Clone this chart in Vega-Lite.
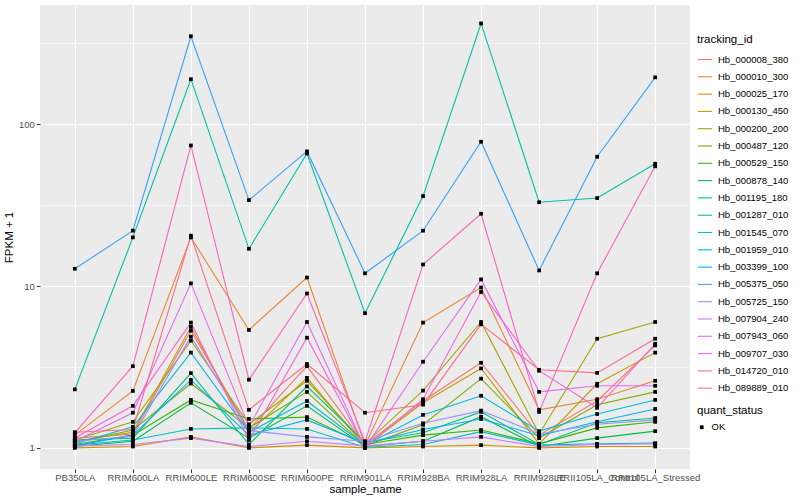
{
"$schema": "https://vega.github.io/schema/vega-lite/v6.json",
"width": 650, "height": 464,
"autosize": {"type": "none"},
"padding": {"left": 40, "top": 5, "right": 110, "bottom": 31},
"background": "white",
"datasets": {"expr": [
{"tracking_id":"Hb_000008_380","sample_name":"PB350LA","fpkm":1.15,"quant_status":"OK"},
{"tracking_id":"Hb_000008_380","sample_name":"RRIM600LA","fpkm":1.22,"quant_status":"OK"},
{"tracking_id":"Hb_000008_380","sample_name":"RRIM600LE","fpkm":5.3,"quant_status":"OK"},
{"tracking_id":"Hb_000008_380","sample_name":"RRIM600SE","fpkm":1.3,"quant_status":"OK"},
{"tracking_id":"Hb_000008_380","sample_name":"RRIM600PE","fpkm":3.2,"quant_status":"OK"},
{"tracking_id":"Hb_000008_380","sample_name":"RRIM901LA","fpkm":1.05,"quant_status":"OK"},
{"tracking_id":"Hb_000008_380","sample_name":"RRIM928BA","fpkm":1.95,"quant_status":"OK"},
{"tracking_id":"Hb_000008_380","sample_name":"RRIM928LA","fpkm":3.36,"quant_status":"OK"},
{"tracking_id":"Hb_000008_380","sample_name":"RRIM928LE","fpkm":1.2,"quant_status":"OK"},
{"tracking_id":"Hb_000008_380","sample_name":"RRII105LA_Control","fpkm":1.95,"quant_status":"OK"},
{"tracking_id":"Hb_000008_380","sample_name":"RRII105LA_Stressed","fpkm":4.3,"quant_status":"OK"},
{"tracking_id":"Hb_000010_300","sample_name":"PB350LA","fpkm":1.2,"quant_status":"OK"},
{"tracking_id":"Hb_000010_300","sample_name":"RRIM600LA","fpkm":2.25,"quant_status":"OK"},
{"tracking_id":"Hb_000010_300","sample_name":"RRIM600LE","fpkm":20,"quant_status":"OK"},
{"tracking_id":"Hb_000010_300","sample_name":"RRIM600SE","fpkm":5.36,"quant_status":"OK"},
{"tracking_id":"Hb_000010_300","sample_name":"RRIM600PE","fpkm":11.3,"quant_status":"OK"},
{"tracking_id":"Hb_000010_300","sample_name":"RRIM901LA","fpkm":1.04,"quant_status":"OK"},
{"tracking_id":"Hb_000010_300","sample_name":"RRIM928BA","fpkm":5.95,"quant_status":"OK"},
{"tracking_id":"Hb_000010_300","sample_name":"RRIM928LA","fpkm":9.8,"quant_status":"OK"},
{"tracking_id":"Hb_000010_300","sample_name":"RRIM928LE","fpkm":1.72,"quant_status":"OK"},
{"tracking_id":"Hb_000010_300","sample_name":"RRII105LA_Control","fpkm":2.0,"quant_status":"OK"},
{"tracking_id":"Hb_000010_300","sample_name":"RRII105LA_Stressed","fpkm":2.6,"quant_status":"OK"},
{"tracking_id":"Hb_000025_170","sample_name":"PB350LA","fpkm":1.0,"quant_status":"OK"},
{"tracking_id":"Hb_000025_170","sample_name":"RRIM600LA","fpkm":1.02,"quant_status":"OK"},
{"tracking_id":"Hb_000025_170","sample_name":"RRIM600LE","fpkm":1.17,"quant_status":"OK"},
{"tracking_id":"Hb_000025_170","sample_name":"RRIM600SE","fpkm":1.0,"quant_status":"OK"},
{"tracking_id":"Hb_000025_170","sample_name":"RRIM600PE","fpkm":1.04,"quant_status":"OK"},
{"tracking_id":"Hb_000025_170","sample_name":"RRIM901LA","fpkm":1.0,"quant_status":"OK"},
{"tracking_id":"Hb_000025_170","sample_name":"RRIM928BA","fpkm":1.02,"quant_status":"OK"},
{"tracking_id":"Hb_000025_170","sample_name":"RRIM928LA","fpkm":1.04,"quant_status":"OK"},
{"tracking_id":"Hb_000025_170","sample_name":"RRIM928LE","fpkm":1.0,"quant_status":"OK"},
{"tracking_id":"Hb_000025_170","sample_name":"RRII105LA_Control","fpkm":1.02,"quant_status":"OK"},
{"tracking_id":"Hb_000025_170","sample_name":"RRII105LA_Stressed","fpkm":1.02,"quant_status":"OK"},
{"tracking_id":"Hb_000130_450","sample_name":"PB350LA","fpkm":1.1,"quant_status":"OK"},
{"tracking_id":"Hb_000130_450","sample_name":"RRIM600LA","fpkm":1.25,"quant_status":"OK"},
{"tracking_id":"Hb_000130_450","sample_name":"RRIM600LE","fpkm":5.6,"quant_status":"OK"},
{"tracking_id":"Hb_000130_450","sample_name":"RRIM600SE","fpkm":1.24,"quant_status":"OK"},
{"tracking_id":"Hb_000130_450","sample_name":"RRIM600PE","fpkm":2.71,"quant_status":"OK"},
{"tracking_id":"Hb_000130_450","sample_name":"RRIM901LA","fpkm":1.02,"quant_status":"OK"},
{"tracking_id":"Hb_000130_450","sample_name":"RRIM928BA","fpkm":1.9,"quant_status":"OK"},
{"tracking_id":"Hb_000130_450","sample_name":"RRIM928LA","fpkm":3.1,"quant_status":"OK"},
{"tracking_id":"Hb_000130_450","sample_name":"RRIM928LE","fpkm":1.06,"quant_status":"OK"},
{"tracking_id":"Hb_000130_450","sample_name":"RRII105LA_Control","fpkm":2.49,"quant_status":"OK"},
{"tracking_id":"Hb_000130_450","sample_name":"RRII105LA_Stressed","fpkm":3.88,"quant_status":"OK"},
{"tracking_id":"Hb_000200_200","sample_name":"PB350LA","fpkm":1.12,"quant_status":"OK"},
{"tracking_id":"Hb_000200_200","sample_name":"RRIM600LA","fpkm":1.45,"quant_status":"OK"},
{"tracking_id":"Hb_000200_200","sample_name":"RRIM600LE","fpkm":4.6,"quant_status":"OK"},
{"tracking_id":"Hb_000200_200","sample_name":"RRIM600SE","fpkm":1.4,"quant_status":"OK"},
{"tracking_id":"Hb_000200_200","sample_name":"RRIM600PE","fpkm":2.6,"quant_status":"OK"},
{"tracking_id":"Hb_000200_200","sample_name":"RRIM901LA","fpkm":1.06,"quant_status":"OK"},
{"tracking_id":"Hb_000200_200","sample_name":"RRIM928BA","fpkm":2.26,"quant_status":"OK"},
{"tracking_id":"Hb_000200_200","sample_name":"RRIM928LA","fpkm":6.0,"quant_status":"OK"},
{"tracking_id":"Hb_000200_200","sample_name":"RRIM928LE","fpkm":1.22,"quant_status":"OK"},
{"tracking_id":"Hb_000200_200","sample_name":"RRII105LA_Control","fpkm":4.73,"quant_status":"OK"},
{"tracking_id":"Hb_000200_200","sample_name":"RRII105LA_Stressed","fpkm":6.0,"quant_status":"OK"},
{"tracking_id":"Hb_000487_120","sample_name":"PB350LA","fpkm":1.08,"quant_status":"OK"},
{"tracking_id":"Hb_000487_120","sample_name":"RRIM600LA","fpkm":1.29,"quant_status":"OK"},
{"tracking_id":"Hb_000487_120","sample_name":"RRIM600LE","fpkm":2.5,"quant_status":"OK"},
{"tracking_id":"Hb_000487_120","sample_name":"RRIM600SE","fpkm":1.33,"quant_status":"OK"},
{"tracking_id":"Hb_000487_120","sample_name":"RRIM600PE","fpkm":2.22,"quant_status":"OK"},
{"tracking_id":"Hb_000487_120","sample_name":"RRIM901LA","fpkm":1.03,"quant_status":"OK"},
{"tracking_id":"Hb_000487_120","sample_name":"RRIM928BA","fpkm":1.39,"quant_status":"OK"},
{"tracking_id":"Hb_000487_120","sample_name":"RRIM928LA","fpkm":2.68,"quant_status":"OK"},
{"tracking_id":"Hb_000487_120","sample_name":"RRIM928LE","fpkm":1.15,"quant_status":"OK"},
{"tracking_id":"Hb_000487_120","sample_name":"RRII105LA_Control","fpkm":1.85,"quant_status":"OK"},
{"tracking_id":"Hb_000487_120","sample_name":"RRII105LA_Stressed","fpkm":2.22,"quant_status":"OK"},
{"tracking_id":"Hb_000529_150","sample_name":"PB350LA","fpkm":1.05,"quant_status":"OK"},
{"tracking_id":"Hb_000529_150","sample_name":"RRIM600LA","fpkm":1.2,"quant_status":"OK"},
{"tracking_id":"Hb_000529_150","sample_name":"RRIM600LE","fpkm":1.98,"quant_status":"OK"},
{"tracking_id":"Hb_000529_150","sample_name":"RRIM600SE","fpkm":1.51,"quant_status":"OK"},
{"tracking_id":"Hb_000529_150","sample_name":"RRIM600PE","fpkm":1.55,"quant_status":"OK"},
{"tracking_id":"Hb_000529_150","sample_name":"RRIM901LA","fpkm":1.05,"quant_status":"OK"},
{"tracking_id":"Hb_000529_150","sample_name":"RRIM928BA","fpkm":1.2,"quant_status":"OK"},
{"tracking_id":"Hb_000529_150","sample_name":"RRIM928LA","fpkm":1.29,"quant_status":"OK"},
{"tracking_id":"Hb_000529_150","sample_name":"RRIM928LE","fpkm":1.06,"quant_status":"OK"},
{"tracking_id":"Hb_000529_150","sample_name":"RRII105LA_Control","fpkm":1.33,"quant_status":"OK"},
{"tracking_id":"Hb_000529_150","sample_name":"RRII105LA_Stressed","fpkm":1.45,"quant_status":"OK"},
{"tracking_id":"Hb_000878_140","sample_name":"PB350LA","fpkm":1.02,"quant_status":"OK"},
{"tracking_id":"Hb_000878_140","sample_name":"RRIM600LA","fpkm":1.1,"quant_status":"OK"},
{"tracking_id":"Hb_000878_140","sample_name":"RRIM600LE","fpkm":1.9,"quant_status":"OK"},
{"tracking_id":"Hb_000878_140","sample_name":"RRIM600SE","fpkm":1.15,"quant_status":"OK"},
{"tracking_id":"Hb_000878_140","sample_name":"RRIM600PE","fpkm":1.82,"quant_status":"OK"},
{"tracking_id":"Hb_000878_140","sample_name":"RRIM901LA","fpkm":1.02,"quant_status":"OK"},
{"tracking_id":"Hb_000878_140","sample_name":"RRIM928BA","fpkm":1.1,"quant_status":"OK"},
{"tracking_id":"Hb_000878_140","sample_name":"RRIM928LA","fpkm":1.56,"quant_status":"OK"},
{"tracking_id":"Hb_000878_140","sample_name":"RRIM928LE","fpkm":1.02,"quant_status":"OK"},
{"tracking_id":"Hb_000878_140","sample_name":"RRII105LA_Control","fpkm":1.15,"quant_status":"OK"},
{"tracking_id":"Hb_000878_140","sample_name":"RRII105LA_Stressed","fpkm":1.27,"quant_status":"OK"},
{"tracking_id":"Hb_001195_180","sample_name":"PB350LA","fpkm":1.12,"quant_status":"OK"},
{"tracking_id":"Hb_001195_180","sample_name":"RRIM600LA","fpkm":1.15,"quant_status":"OK"},
{"tracking_id":"Hb_001195_180","sample_name":"RRIM600LE","fpkm":2.9,"quant_status":"OK"},
{"tracking_id":"Hb_001195_180","sample_name":"RRIM600SE","fpkm":1.05,"quant_status":"OK"},
{"tracking_id":"Hb_001195_180","sample_name":"RRIM600PE","fpkm":2.4,"quant_status":"OK"},
{"tracking_id":"Hb_001195_180","sample_name":"RRIM901LA","fpkm":1.08,"quant_status":"OK"},
{"tracking_id":"Hb_001195_180","sample_name":"RRIM928BA","fpkm":1.24,"quant_status":"OK"},
{"tracking_id":"Hb_001195_180","sample_name":"RRIM928LA","fpkm":1.67,"quant_status":"OK"},
{"tracking_id":"Hb_001195_180","sample_name":"RRIM928LE","fpkm":1.05,"quant_status":"OK"},
{"tracking_id":"Hb_001195_180","sample_name":"RRII105LA_Control","fpkm":1.43,"quant_status":"OK"},
{"tracking_id":"Hb_001195_180","sample_name":"RRII105LA_Stressed","fpkm":1.53,"quant_status":"OK"},
{"tracking_id":"Hb_001287_010","sample_name":"PB350LA","fpkm":2.3,"quant_status":"OK"},
{"tracking_id":"Hb_001287_010","sample_name":"RRIM600LA","fpkm":20,"quant_status":"OK"},
{"tracking_id":"Hb_001287_010","sample_name":"RRIM600LE","fpkm":190,"quant_status":"OK"},
{"tracking_id":"Hb_001287_010","sample_name":"RRIM600SE","fpkm":17,"quant_status":"OK"},
{"tracking_id":"Hb_001287_010","sample_name":"RRIM600PE","fpkm":66,"quant_status":"OK"},
{"tracking_id":"Hb_001287_010","sample_name":"RRIM901LA","fpkm":6.8,"quant_status":"OK"},
{"tracking_id":"Hb_001287_010","sample_name":"RRIM928BA","fpkm":36,"quant_status":"OK"},
{"tracking_id":"Hb_001287_010","sample_name":"RRIM928LA","fpkm":420,"quant_status":"OK"},
{"tracking_id":"Hb_001287_010","sample_name":"RRIM928LE","fpkm":33,"quant_status":"OK"},
{"tracking_id":"Hb_001287_010","sample_name":"RRII105LA_Control","fpkm":35,"quant_status":"OK"},
{"tracking_id":"Hb_001287_010","sample_name":"RRII105LA_Stressed","fpkm":57,"quant_status":"OK"},
{"tracking_id":"Hb_001545_070","sample_name":"PB350LA","fpkm":1.04,"quant_status":"OK"},
{"tracking_id":"Hb_001545_070","sample_name":"RRIM600LA","fpkm":1.12,"quant_status":"OK"},
{"tracking_id":"Hb_001545_070","sample_name":"RRIM600LE","fpkm":1.31,"quant_status":"OK"},
{"tracking_id":"Hb_001545_070","sample_name":"RRIM600SE","fpkm":1.33,"quant_status":"OK"},
{"tracking_id":"Hb_001545_070","sample_name":"RRIM600PE","fpkm":1.31,"quant_status":"OK"},
{"tracking_id":"Hb_001545_070","sample_name":"RRIM901LA","fpkm":1.01,"quant_status":"OK"},
{"tracking_id":"Hb_001545_070","sample_name":"RRIM928BA","fpkm":1.05,"quant_status":"OK"},
{"tracking_id":"Hb_001545_070","sample_name":"RRIM928LA","fpkm":1.26,"quant_status":"OK"},
{"tracking_id":"Hb_001545_070","sample_name":"RRIM928LE","fpkm":1.04,"quant_status":"OK"},
{"tracking_id":"Hb_001545_070","sample_name":"RRII105LA_Control","fpkm":1.06,"quant_status":"OK"},
{"tracking_id":"Hb_001545_070","sample_name":"RRII105LA_Stressed","fpkm":1.07,"quant_status":"OK"},
{"tracking_id":"Hb_001959_010","sample_name":"PB350LA","fpkm":1.06,"quant_status":"OK"},
{"tracking_id":"Hb_001959_010","sample_name":"RRIM600LA","fpkm":1.35,"quant_status":"OK"},
{"tracking_id":"Hb_001959_010","sample_name":"RRIM600LE","fpkm":3.88,"quant_status":"OK"},
{"tracking_id":"Hb_001959_010","sample_name":"RRIM600SE","fpkm":1.25,"quant_status":"OK"},
{"tracking_id":"Hb_001959_010","sample_name":"RRIM600PE","fpkm":1.95,"quant_status":"OK"},
{"tracking_id":"Hb_001959_010","sample_name":"RRIM901LA","fpkm":1.04,"quant_status":"OK"},
{"tracking_id":"Hb_001959_010","sample_name":"RRIM928BA","fpkm":1.6,"quant_status":"OK"},
{"tracking_id":"Hb_001959_010","sample_name":"RRIM928LA","fpkm":2.1,"quant_status":"OK"},
{"tracking_id":"Hb_001959_010","sample_name":"RRIM928LE","fpkm":1.27,"quant_status":"OK"},
{"tracking_id":"Hb_001959_010","sample_name":"RRII105LA_Control","fpkm":1.62,"quant_status":"OK"},
{"tracking_id":"Hb_001959_010","sample_name":"RRII105LA_Stressed","fpkm":1.98,"quant_status":"OK"},
{"tracking_id":"Hb_003399_100","sample_name":"PB350LA","fpkm":1.03,"quant_status":"OK"},
{"tracking_id":"Hb_003399_100","sample_name":"RRIM600LA","fpkm":1.2,"quant_status":"OK"},
{"tracking_id":"Hb_003399_100","sample_name":"RRIM600LE","fpkm":2.63,"quant_status":"OK"},
{"tracking_id":"Hb_003399_100","sample_name":"RRIM600SE","fpkm":1.2,"quant_status":"OK"},
{"tracking_id":"Hb_003399_100","sample_name":"RRIM600PE","fpkm":1.49,"quant_status":"OK"},
{"tracking_id":"Hb_003399_100","sample_name":"RRIM901LA","fpkm":1.07,"quant_status":"OK"},
{"tracking_id":"Hb_003399_100","sample_name":"RRIM928BA","fpkm":1.3,"quant_status":"OK"},
{"tracking_id":"Hb_003399_100","sample_name":"RRIM928LA","fpkm":1.51,"quant_status":"OK"},
{"tracking_id":"Hb_003399_100","sample_name":"RRIM928LE","fpkm":1.19,"quant_status":"OK"},
{"tracking_id":"Hb_003399_100","sample_name":"RRII105LA_Control","fpkm":1.45,"quant_status":"OK"},
{"tracking_id":"Hb_003399_100","sample_name":"RRII105LA_Stressed","fpkm":1.74,"quant_status":"OK"},
{"tracking_id":"Hb_005375_050","sample_name":"PB350LA","fpkm":12.8,"quant_status":"OK"},
{"tracking_id":"Hb_005375_050","sample_name":"RRIM600LA","fpkm":22,"quant_status":"OK"},
{"tracking_id":"Hb_005375_050","sample_name":"RRIM600LE","fpkm":350,"quant_status":"OK"},
{"tracking_id":"Hb_005375_050","sample_name":"RRIM600SE","fpkm":34,"quant_status":"OK"},
{"tracking_id":"Hb_005375_050","sample_name":"RRIM600PE","fpkm":68,"quant_status":"OK"},
{"tracking_id":"Hb_005375_050","sample_name":"RRIM901LA","fpkm":12,"quant_status":"OK"},
{"tracking_id":"Hb_005375_050","sample_name":"RRIM928BA","fpkm":22,"quant_status":"OK"},
{"tracking_id":"Hb_005375_050","sample_name":"RRIM928LA","fpkm":78,"quant_status":"OK"},
{"tracking_id":"Hb_005375_050","sample_name":"RRIM928LE","fpkm":12.5,"quant_status":"OK"},
{"tracking_id":"Hb_005375_050","sample_name":"RRII105LA_Control","fpkm":63,"quant_status":"OK"},
{"tracking_id":"Hb_005375_050","sample_name":"RRII105LA_Stressed","fpkm":195,"quant_status":"OK"},
{"tracking_id":"Hb_005725_150","sample_name":"PB350LA","fpkm":1.1,"quant_status":"OK"},
{"tracking_id":"Hb_005725_150","sample_name":"RRIM600LA","fpkm":1.18,"quant_status":"OK"},
{"tracking_id":"Hb_005725_150","sample_name":"RRIM600LE","fpkm":4.87,"quant_status":"OK"},
{"tracking_id":"Hb_005725_150","sample_name":"RRIM600SE","fpkm":1.28,"quant_status":"OK"},
{"tracking_id":"Hb_005725_150","sample_name":"RRIM600PE","fpkm":1.17,"quant_status":"OK"},
{"tracking_id":"Hb_005725_150","sample_name":"RRIM901LA","fpkm":1.1,"quant_status":"OK"},
{"tracking_id":"Hb_005725_150","sample_name":"RRIM928BA","fpkm":1.42,"quant_status":"OK"},
{"tracking_id":"Hb_005725_150","sample_name":"RRIM928LA","fpkm":1.7,"quant_status":"OK"},
{"tracking_id":"Hb_005725_150","sample_name":"RRIM928LE","fpkm":1.22,"quant_status":"OK"},
{"tracking_id":"Hb_005725_150","sample_name":"RRII105LA_Control","fpkm":1.4,"quant_status":"OK"},
{"tracking_id":"Hb_005725_150","sample_name":"RRII105LA_Stressed","fpkm":1.49,"quant_status":"OK"},
{"tracking_id":"Hb_007904_240","sample_name":"PB350LA","fpkm":1.03,"quant_status":"OK"},
{"tracking_id":"Hb_007904_240","sample_name":"RRIM600LA","fpkm":1.05,"quant_status":"OK"},
{"tracking_id":"Hb_007904_240","sample_name":"RRIM600LE","fpkm":1.15,"quant_status":"OK"},
{"tracking_id":"Hb_007904_240","sample_name":"RRIM600SE","fpkm":1.02,"quant_status":"OK"},
{"tracking_id":"Hb_007904_240","sample_name":"RRIM600PE","fpkm":1.1,"quant_status":"OK"},
{"tracking_id":"Hb_007904_240","sample_name":"RRIM901LA","fpkm":1.03,"quant_status":"OK"},
{"tracking_id":"Hb_007904_240","sample_name":"RRIM928BA","fpkm":1.1,"quant_status":"OK"},
{"tracking_id":"Hb_007904_240","sample_name":"RRIM928LA","fpkm":1.17,"quant_status":"OK"},
{"tracking_id":"Hb_007904_240","sample_name":"RRIM928LE","fpkm":1.02,"quant_status":"OK"},
{"tracking_id":"Hb_007904_240","sample_name":"RRII105LA_Control","fpkm":1.05,"quant_status":"OK"},
{"tracking_id":"Hb_007904_240","sample_name":"RRII105LA_Stressed","fpkm":1.06,"quant_status":"OK"},
{"tracking_id":"Hb_007943_060","sample_name":"PB350LA","fpkm":1.1,"quant_status":"OK"},
{"tracking_id":"Hb_007943_060","sample_name":"RRIM600LA","fpkm":1.65,"quant_status":"OK"},
{"tracking_id":"Hb_007943_060","sample_name":"RRIM600LE","fpkm":10.4,"quant_status":"OK"},
{"tracking_id":"Hb_007943_060","sample_name":"RRIM600SE","fpkm":1.35,"quant_status":"OK"},
{"tracking_id":"Hb_007943_060","sample_name":"RRIM600PE","fpkm":6.0,"quant_status":"OK"},
{"tracking_id":"Hb_007943_060","sample_name":"RRIM901LA","fpkm":1.0,"quant_status":"OK"},
{"tracking_id":"Hb_007943_060","sample_name":"RRIM928BA","fpkm":3.41,"quant_status":"OK"},
{"tracking_id":"Hb_007943_060","sample_name":"RRIM928LA","fpkm":11,"quant_status":"OK"},
{"tracking_id":"Hb_007943_060","sample_name":"RRIM928LE","fpkm":2.22,"quant_status":"OK"},
{"tracking_id":"Hb_007943_060","sample_name":"RRII105LA_Control","fpkm":2.42,"quant_status":"OK"},
{"tracking_id":"Hb_007943_060","sample_name":"RRII105LA_Stressed","fpkm":2.42,"quant_status":"OK"},
{"tracking_id":"Hb_009707_030","sample_name":"PB350LA","fpkm":1.15,"quant_status":"OK"},
{"tracking_id":"Hb_009707_030","sample_name":"RRIM600LA","fpkm":1.82,"quant_status":"OK"},
{"tracking_id":"Hb_009707_030","sample_name":"RRIM600LE","fpkm":5.95,"quant_status":"OK"},
{"tracking_id":"Hb_009707_030","sample_name":"RRIM600SE","fpkm":1.12,"quant_status":"OK"},
{"tracking_id":"Hb_009707_030","sample_name":"RRIM600PE","fpkm":4.8,"quant_status":"OK"},
{"tracking_id":"Hb_009707_030","sample_name":"RRIM901LA","fpkm":1.01,"quant_status":"OK"},
{"tracking_id":"Hb_009707_030","sample_name":"RRIM928BA","fpkm":2.0,"quant_status":"OK"},
{"tracking_id":"Hb_009707_030","sample_name":"RRIM928LA","fpkm":9.2,"quant_status":"OK"},
{"tracking_id":"Hb_009707_030","sample_name":"RRIM928LE","fpkm":3.0,"quant_status":"OK"},
{"tracking_id":"Hb_009707_030","sample_name":"RRII105LA_Control","fpkm":1.77,"quant_status":"OK"},
{"tracking_id":"Hb_009707_030","sample_name":"RRII105LA_Stressed","fpkm":4.4,"quant_status":"OK"},
{"tracking_id":"Hb_014720_010","sample_name":"PB350LA","fpkm":1.24,"quant_status":"OK"},
{"tracking_id":"Hb_014720_010","sample_name":"RRIM600LA","fpkm":3.2,"quant_status":"OK"},
{"tracking_id":"Hb_014720_010","sample_name":"RRIM600LE","fpkm":74,"quant_status":"OK"},
{"tracking_id":"Hb_014720_010","sample_name":"RRIM600SE","fpkm":2.64,"quant_status":"OK"},
{"tracking_id":"Hb_014720_010","sample_name":"RRIM600PE","fpkm":9.0,"quant_status":"OK"},
{"tracking_id":"Hb_014720_010","sample_name":"RRIM901LA","fpkm":1.09,"quant_status":"OK"},
{"tracking_id":"Hb_014720_010","sample_name":"RRIM928BA","fpkm":13.6,"quant_status":"OK"},
{"tracking_id":"Hb_014720_010","sample_name":"RRIM928LA","fpkm":28,"quant_status":"OK"},
{"tracking_id":"Hb_014720_010","sample_name":"RRIM928LE","fpkm":1.67,"quant_status":"OK"},
{"tracking_id":"Hb_014720_010","sample_name":"RRII105LA_Control","fpkm":12,"quant_status":"OK"},
{"tracking_id":"Hb_014720_010","sample_name":"RRII105LA_Stressed","fpkm":55,"quant_status":"OK"},
{"tracking_id":"Hb_089889_010","sample_name":"PB350LA","fpkm":1.25,"quant_status":"OK"},
{"tracking_id":"Hb_089889_010","sample_name":"RRIM600LA","fpkm":1.3,"quant_status":"OK"},
{"tracking_id":"Hb_089889_010","sample_name":"RRIM600LE","fpkm":20.5,"quant_status":"OK"},
{"tracking_id":"Hb_089889_010","sample_name":"RRIM600SE","fpkm":1.72,"quant_status":"OK"},
{"tracking_id":"Hb_089889_010","sample_name":"RRIM600PE","fpkm":3.3,"quant_status":"OK"},
{"tracking_id":"Hb_089889_010","sample_name":"RRIM901LA","fpkm":1.65,"quant_status":"OK"},
{"tracking_id":"Hb_089889_010","sample_name":"RRIM928BA","fpkm":1.85,"quant_status":"OK"},
{"tracking_id":"Hb_089889_010","sample_name":"RRIM928LA","fpkm":5.8,"quant_status":"OK"},
{"tracking_id":"Hb_089889_010","sample_name":"RRIM928LE","fpkm":3.04,"quant_status":"OK"},
{"tracking_id":"Hb_089889_010","sample_name":"RRII105LA_Control","fpkm":2.91,"quant_status":"OK"},
{"tracking_id":"Hb_089889_010","sample_name":"RRII105LA_Stressed","fpkm":4.73,"quant_status":"OK"}
]},
"data": {"name": "expr"},
"encoding": {
  "x": {"field": "sample_name", "type": "nominal",
    "sort": ["PB350LA","RRIM600LA","RRIM600LE","RRIM600SE","RRIM600PE","RRIM901LA","RRIM928BA","RRIM928LA","RRIM928LE","RRII105LA_Control","RRII105LA_Stressed"],
    "scale": {"type": "point", "padding": 0.6},
    "axis": {"title": "sample_name", "labelAngle": 0, "labelOverlap": false, "labelBound": false, "labelPadding": 0, "titlePadding": 1, "grid": true, "gridWidth": 1.1}},
  "y": {"field": "fpkm", "type": "quantitative",
    "scale": {"type": "log", "domain": [0.7408, 546.1], "nice": false, "zero": false},
    "axis": {"title": "FPKM + 1", "values": [1, 3.1623, 10, 31.623, 100, 316.23],
      "labelExpr": "(datum.value == 1 || datum.value == 10 || datum.value == 100) ? format(datum.value, 'd') : ''",
      "gridWidth": {"condition": {"test": "datum.value == 1 || datum.value == 10 || datum.value == 100", "value": 1.1}, "value": 0.55},
      "tickSize": {"condition": {"test": "datum.value == 1 || datum.value == 10 || datum.value == 100", "value": 3.6}, "value": 0},
      "labelPadding": 2, "titlePadding": 4}}
},
"layer": [
  {"mark": {"type": "line", "strokeWidth": 1.1},
   "encoding": {
     "color": {"field": "tracking_id", "type": "nominal",
       "scale": {"range": ["#F8766D","#EA8331","#D89000","#C09B00","#A3A500","#7CAE00","#39B600","#00BB4E","#00BF7D","#00C1A3","#00BFC4","#00BAE0","#00B0F6","#35A2FF","#9590FF","#C77CFF","#E76BF3","#FA62DB","#FF62BC","#FF6C90"]},
       "legend": {"title": "tracking_id", "orient": "none", "legendX": 657, "legendY": 29, "symbolType": "stroke", "symbolSize": 196, "symbolStrokeWidth": 1.1, "rowPadding": 4.3, "labelOffset": 5, "titlePadding": 6}},
     "order": {"value": null}
   }},
  {"mark": {"type": "point", "filled": true, "color": "black", "opacity": 1, "size": 14},
   "encoding": {
     "shape": {"field": "quant_status", "type": "nominal", "scale": {"domain": ["OK"], "range": ["square"]},
       "legend": {"title": "quant_status", "orient": "none", "legendX": 657, "legendY": 400, "symbolSize": 14, "symbolFillColor": "black", "labelOffset": 5, "titlePadding": 6}}
   }}
],
"config": {
  "view": {"fill": "#EBEBEB", "stroke": null},
  "axis": {"domain": false, "gridColor": "white", "gridOpacity": 1, "tickColor": "#333333", "tickSize": 3.6, "labelColor": "#4D4D4D", "labelFont": "Liberation Sans", "labelFontSize": 9.5, "titleFont": "Liberation Sans", "titleFontSize": 11.5, "titleFontWeight": "normal", "titleColor": "black"},
  "legend": {"titleFont": "Liberation Sans", "titleFontSize": 11.5, "titleFontWeight": "normal", "titleColor": "black", "labelFont": "Liberation Sans", "labelFontSize": 9.5, "labelColor": "black"}
}
}
